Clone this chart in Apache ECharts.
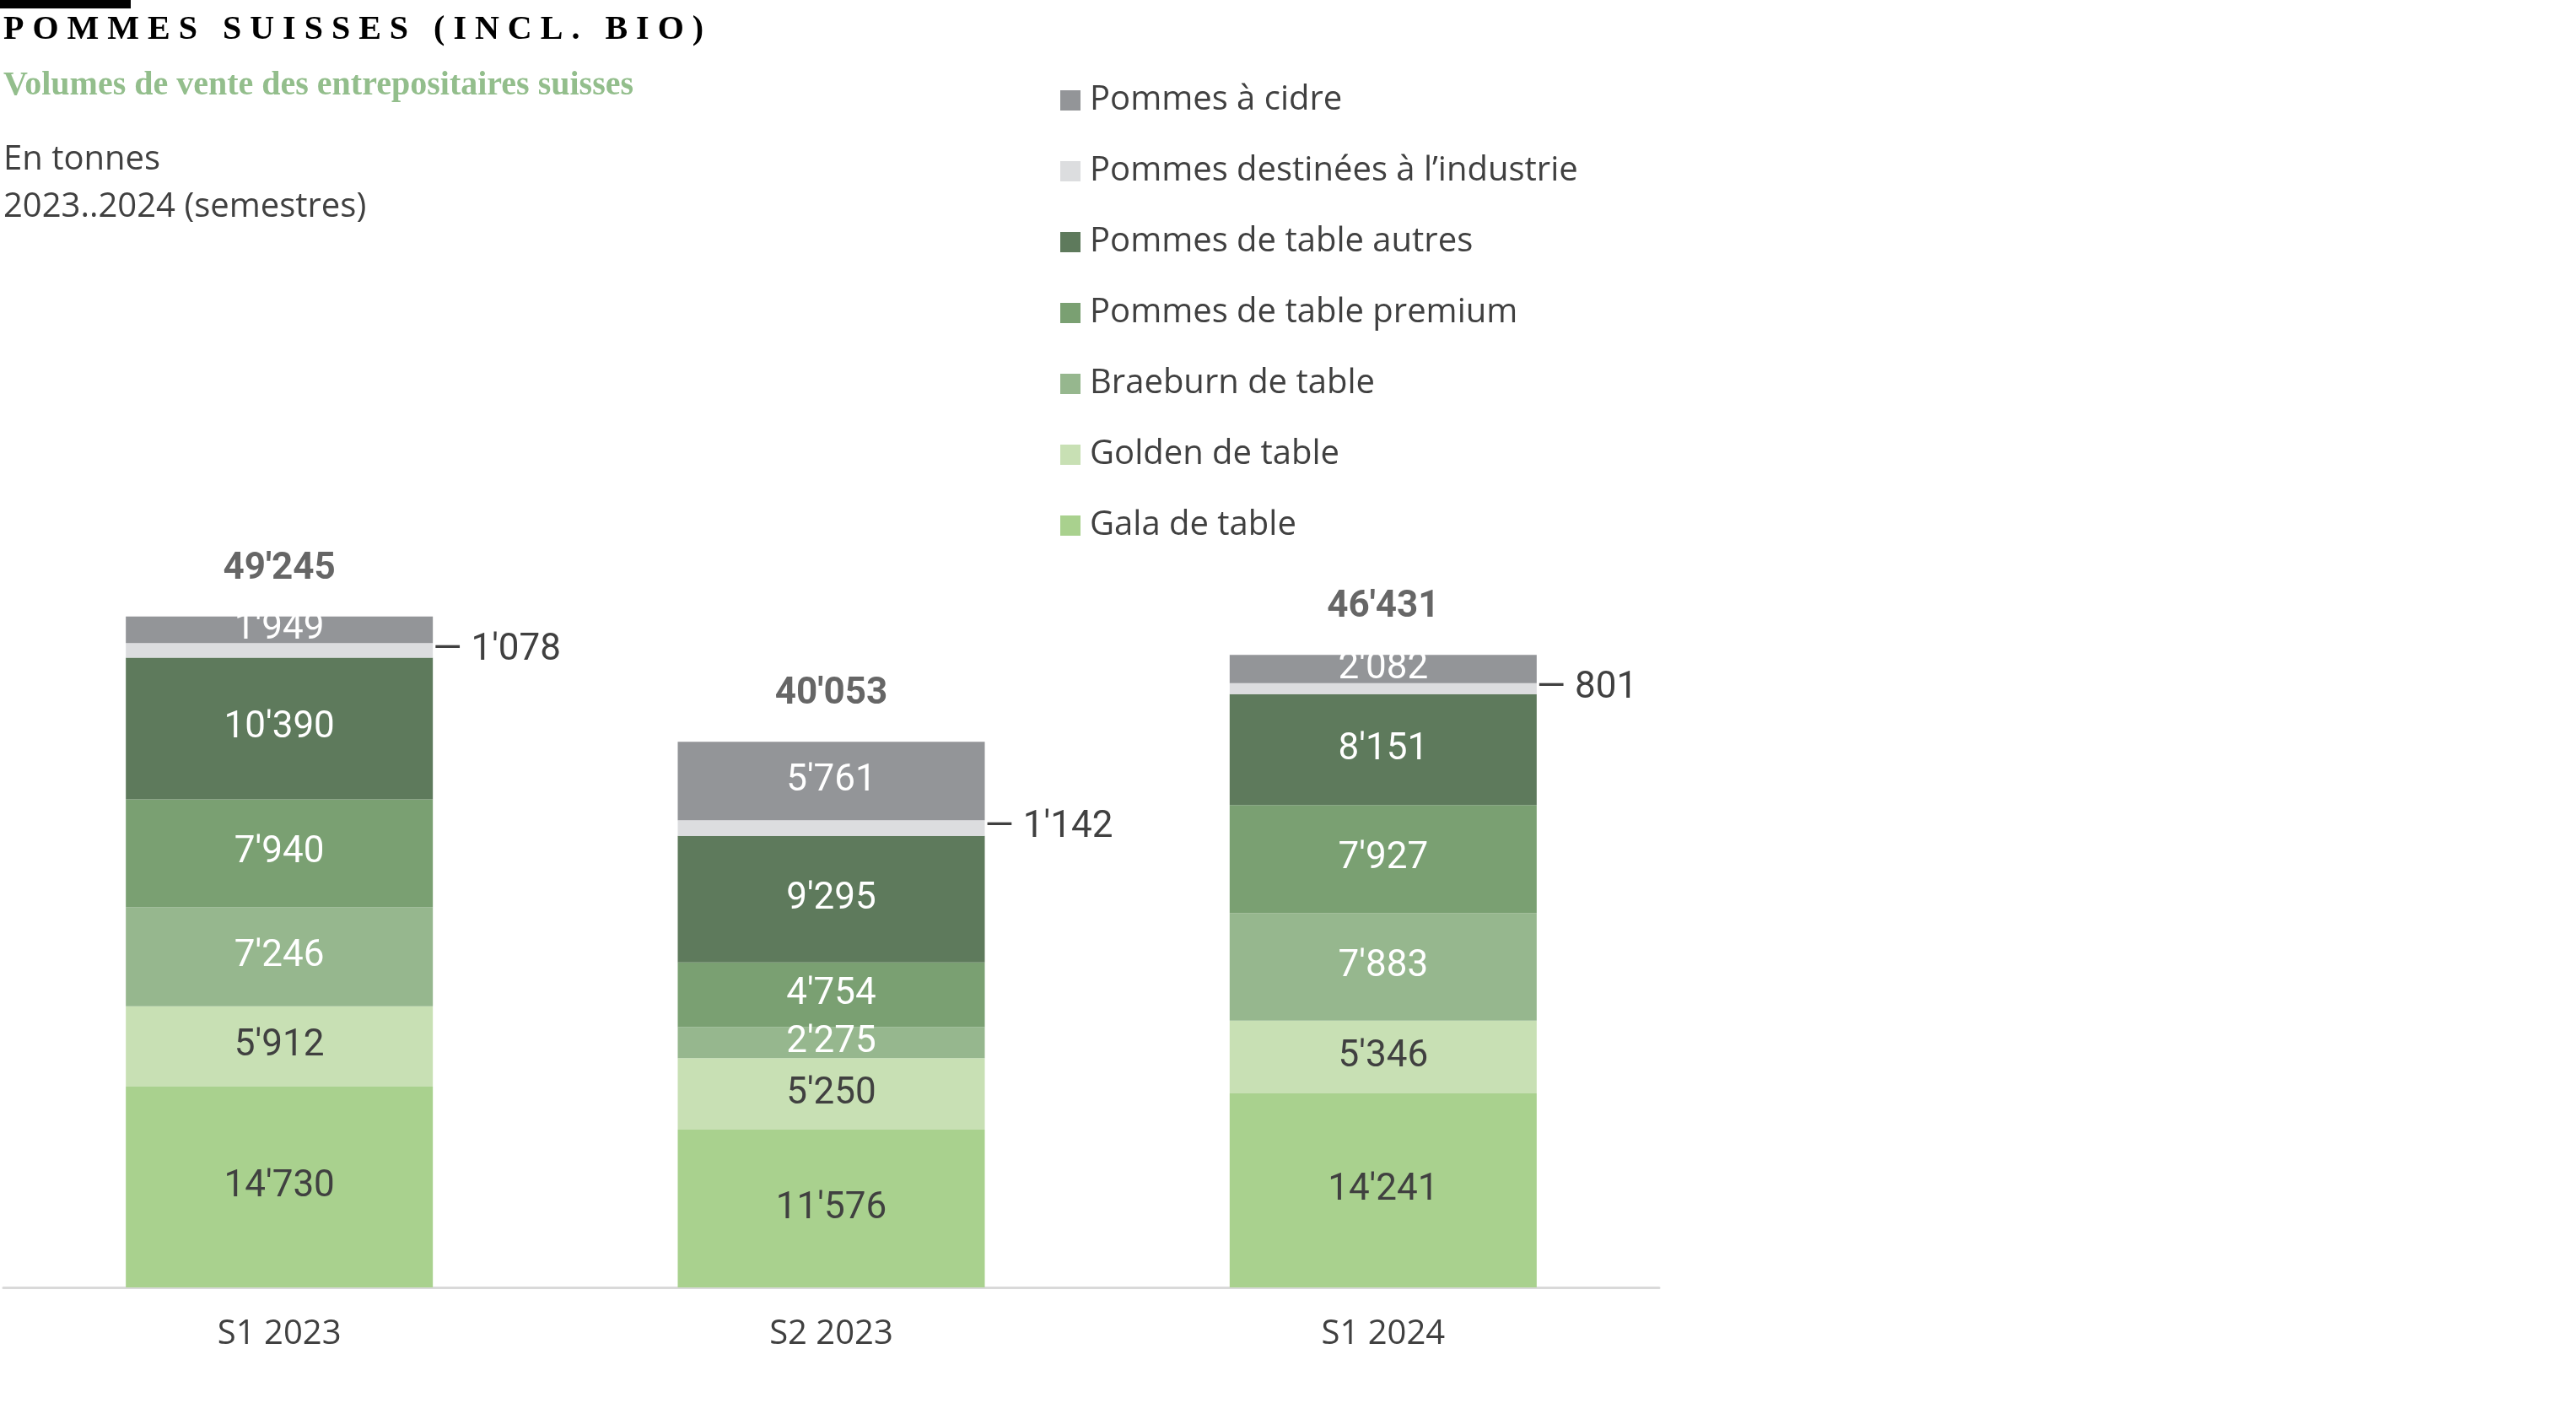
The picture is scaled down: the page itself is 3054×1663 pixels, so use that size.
<!DOCTYPE html>
<html><head><meta charset="utf-8">
<script src="https://cdn.jsdelivr.net/npm/echarts@6/dist/echarts.min.js"></script>
<style>html,body{margin:0;padding:0;background:#fff}#c{width:3054px;height:1663px}</style>
</head><body><div id="c"></div>
<script>
const categories = ["S1 2023", "S2 2023", "S1 2024"];
const gala = [14730, 11576, 14241];
const golden = [5912, 5250, 5346];
const braeburn = [7246, 2275, 7883];
const premium = [7940, 4754, 7927];
const autres = [10390, 9295, 8151];
const industrie = [1078, 1142, 801];
const cidre = [1949, 5761, 2082];
const totals = [49245, 40053, 46431];

const fmt = v => String(v).replace(/\B(?=(\d{3})+(?!\d))/g, "'");
const chart = echarts.init(document.getElementById('c'));
const numFont = 'Roboto';
function seg(name, data, color, labelColor) {
  return {
    name, type: 'bar', stack: 't', data, barWidth: 364,
    itemStyle: { color },
    label: { show: true, position: 'inside', color: labelColor, fontSize: 44, fontFamily: numFont,
      formatter: p => fmt(p.value) }
  };
}
const series = [
  seg('Gala de table', gala, '#a9d18e', '#404040'),
  seg('Golden de table', golden, '#c8e0b4', '#404040'),
  seg('Braeburn de table', braeburn, '#96b78e', '#ffffff'),
  seg('Pommes de table premium', premium, '#7aa072', '#ffffff'),
  seg('Pommes de table autres', autres, '#5e7a5c', '#ffffff'),
  {
    name: 'Pommes destinées à l’industrie', type: 'bar', stack: 't', data: industrie, barWidth: 364,
    itemStyle: { color: '#dcdddf' },
    label: { show: true, position: 'right', distance: 0, color: '#404040', fontSize: 44, fontFamily: numFont,
      formatter: p => '— ' + fmt(p.value) }
  },
  seg('Pommes à cidre', cidre, '#939598', '#ffffff'),
  {
    name: 'total', type: 'scatter', data: totals, symbolSize: 0, silent: true,
    label: { show: true, position: 'top', distance: 34, color: '#404040', fontSize: 44, fontWeight: 'bold',
      fontFamily: numFont, formatter: p => fmt(p.value) }
  }
];
chart.setOption({
  animation: false,
  grid: { left: 4, right: 1087, top: 557, bottom: 1663 - 1526, containLabel: false },
  xAxis: { type: 'category', data: categories,
    axisLine: { lineStyle: { color: '#d9d9d9', width: 3 } }, axisTick: { show: false },
    axisLabel: { fontSize: 40, color: '#404040', fontFamily: 'Open Sans', margin: 36 } },
  yAxis: { type: 'value', min: 0, max: 60000, show: false, splitLine: { show: false } },
  legend: {
    orient: 'vertical', left: 1252, top: 94, itemGap: 44, itemWidth: 24, itemHeight: 24, icon: 'rect',
    textStyle: { fontSize: 40, color: '#404040', fontFamily: 'Open Sans', padding: [0, 0, 0, 6] },
    data: ['Pommes à cidre', 'Pommes destinées à l’industrie', 'Pommes de table autres',
      'Pommes de table premium', 'Braeburn de table', 'Golden de table', 'Gala de table']
  },
  graphic: [
    { type: 'rect', left: 0, top: 0, shape: { width: 155, height: 10 }, style: { fill: '#000' } },
    { type: 'text', left: 4, top: 16, style: { text: 'P O M M E S   S U I S S E S   ( I N C L .   B I O )', fontSize: 40, fontWeight: 'bold', fill: '#000', fontFamily: 'Liberation Sans Narrow' } },
    { type: 'text', left: 4, top: 82, style: { text: 'Volumes de vente des entrepositaires suisses', fontSize: 40, fontWeight: 'bold', fill: '#93be8c', fontFamily: 'Liberation Sans Narrow' } },
    { type: 'text', left: 4, top: 170, style: { text: 'En tonnes', fontSize: 40, fill: '#404040', fontFamily: 'Open Sans' } },
    { type: 'text', left: 4, top: 226, style: { text: '2023..2024 (semestres)', fontSize: 40, fill: '#404040', fontFamily: 'Open Sans' } }
  ],
  series
});
</script></body></html>
